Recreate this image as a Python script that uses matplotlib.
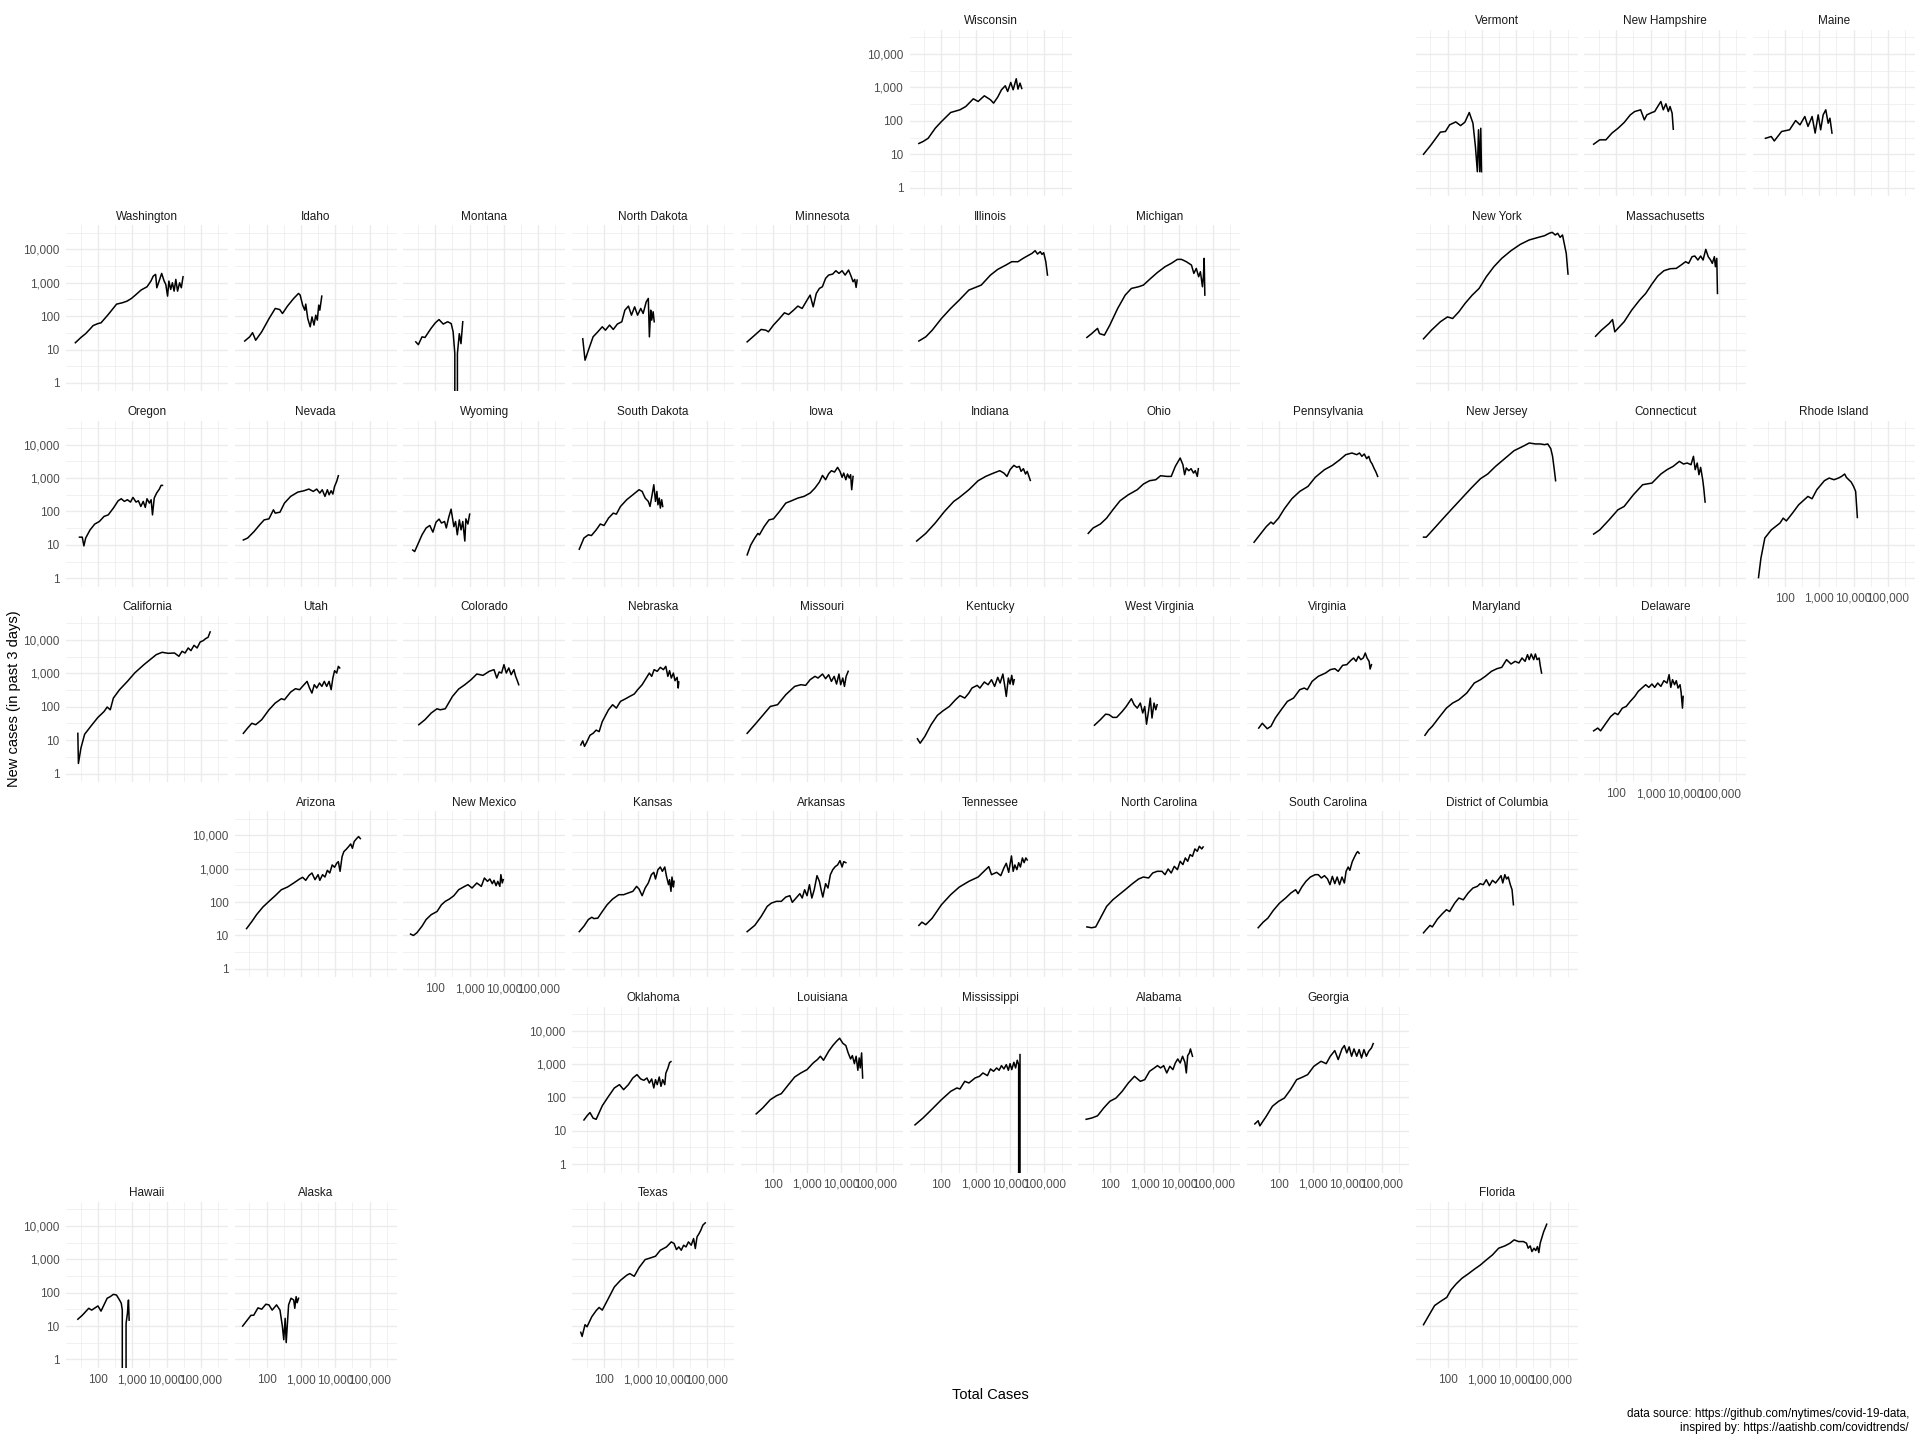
import matplotlib.pyplot as plt
from matplotlib.ticker import FixedLocator, FuncFormatter, NullFormatter

plt.rcParams['font.family'] = ['Liberation Sans', 'DejaVu Sans']

# geofacet-style grid: state name, grid row, grid column
states = ['Wisconsin', 'Vermont', 'New Hampshire', 'Maine',
          'Washington', 'Idaho', 'Montana', 'North Dakota', 'Minnesota', 'Illinois', 'Michigan',
          'New York', 'Massachusetts',
          'Oregon', 'Nevada', 'Wyoming', 'South Dakota', 'Iowa', 'Indiana', 'Ohio', 'Pennsylvania',
          'New Jersey', 'Connecticut', 'Rhode Island',
          'California', 'Utah', 'Colorado', 'Nebraska', 'Missouri', 'Kentucky', 'West Virginia',
          'Virginia', 'Maryland', 'Delaware',
          'Arizona', 'New Mexico', 'Kansas', 'Arkansas', 'Tennessee', 'North Carolina',
          'South Carolina', 'District of Columbia',
          'Oklahoma', 'Louisiana', 'Mississippi', 'Alabama', 'Georgia',
          'Hawaii', 'Alaska', 'Texas', 'Florida']
grid_rows = [0, 0, 0, 0,
             1, 1, 1, 1, 1, 1, 1, 1, 1,
             2, 2, 2, 2, 2, 2, 2, 2, 2, 2, 2,
             3, 3, 3, 3, 3, 3, 3, 3, 3, 3,
             4, 4, 4, 4, 4, 4, 4, 4,
             5, 5, 5, 5, 5,
             6, 6, 6, 6]
grid_cols = [5, 8, 9, 10,
             0, 1, 2, 3, 4, 5, 6, 8, 9,
             0, 1, 2, 3, 4, 5, 6, 7, 8, 9, 10,
             0, 1, 2, 3, 4, 5, 6, 7, 8, 9,
             1, 2, 3, 4, 5, 6, 7, 8,
             3, 4, 5, 6, 7,
             0, 1, 3, 8]

# total cases vs new cases in the past 3 days
wi_total = [22, 29, 41, 66, 100, 186, 347, 513, 851, 1175, 1778, 2690, 3311, 4365, 5623, 7244, 8511, 10470, 12300, 15140, 16980, 19500, 21880]
wi_new = [21, 24, 30, 60, 95, 178, 214, 269, 457, 380, 562, 427, 339, 513, 851, 1122, 759, 1413, 851, 1820, 891, 1349, 933]
vt_total = [20, 33, 62, 87, 115, 174, 240, 320, 430, 550, 650, 740, 800, 870, 930, 980]
vt_new = [10, 19, 46, 48, 76, 93, 72, 91, 178, 85, 17, 3, 54, 3, 60, 3]
nh_total = [22, 33, 50, 75, 113, 170, 257, 345, 515, 660, 780, 1100, 1320, 1620, 2000, 2350, 2800, 3300, 3700, 4250, 4600]
nh_new = [20, 27, 27, 43, 60, 89, 151, 190, 214, 107, 151, 178, 190, 269, 380, 214, 324, 190, 269, 170, 56]
me_total = [27, 40, 49, 80, 137, 205, 275, 380, 470, 620, 760, 930, 1100, 1300, 1550, 1820, 2050, 2350]
me_new = [30, 34, 25, 48, 54, 102, 76, 135, 68, 135, 43, 151, 54, 151, 214, 85, 120, 43]
wa_total = [22, 32, 44, 60, 72, 100, 123, 200, 350, 510, 710, 950, 1300, 1800, 2700, 3500, 4100, 4800, 5200, 6300, 7200, 8500, 9500, 10700, 11700, 13200, 14800, 16600, 18600, 20900, 24000, 26900, 30200]
wa_new = [16, 23, 30, 42, 52, 60, 63, 112, 229, 251, 282, 339, 447, 603, 759, 1122, 1585, 1778, 708, 1259, 1905, 1122, 891, 398, 1122, 631, 1000, 562, 1259, 562, 1000, 708, 1514]
id_total = [23, 32, 39, 48, 72, 118, 178, 240, 290, 405, 615, 850, 950, 1120, 1290, 1380, 1580, 1860, 2100, 2400, 2700, 3000, 3300, 3550, 4050]
id_new = [18, 24, 32, 19, 34, 85, 170, 158, 120, 200, 339, 479, 427, 214, 151, 229, 85, 48, 95, 54, 107, 76, 214, 151, 398]
mt_total = [27, 32, 41, 50, 75, 100, 128, 170, 229, 290, 330, 370, 405, 440, 500, 560, 630]
mt_new = [17, 14, 24, 23, 43, 63, 79, 58, 68, 60, 34, 7.6, 0, 7.6, 30, 15, 68]
nd_total = [24, 28, 35, 48, 66, 89, 110, 145, 186, 245, 330, 405, 515, 630, 780, 950, 1175, 1380, 1700, 1950, 2100, 2290, 2450, 2700, 2900]
nd_new = [21, 4.8, 9.5, 24, 34, 48, 38, 54, 40, 58, 68, 151, 200, 107, 190, 107, 170, 120, 269, 339, 24, 151, 76, 135, 68]
mn_total = [18, 30, 46, 63, 75, 105, 158, 219, 290, 405, 540, 720, 1000, 1230, 1510, 1860, 2290, 2800, 3470, 4260, 5600, 6900, 8500, 10500, 12900, 16200, 19500, 21900, 24500, 26900, 28800]
mn_new = [17, 27, 40, 38, 34, 54, 85, 126, 112, 151, 200, 170, 302, 427, 190, 479, 676, 759, 1349, 1698, 1820, 2290, 1905, 2290, 1698, 2400, 1514, 1072, 1259, 724, 1202]
il_total = [22, 35, 54, 100, 186, 330, 630, 1445, 2690, 4370, 7590, 11200, 17000, 24000, 31600, 43700, 53700, 63100, 75900, 85100, 95500, 110000, 123000]
il_new = [18, 24, 38, 85, 170, 302, 603, 851, 1698, 2512, 3390, 4266, 4266, 5370, 6310, 7590, 9120, 7240, 8510, 7080, 7940, 4266, 1698]
mi_total = [21, 29, 43, 49, 68, 98, 166, 275, 417, 676, 933, 1410, 2340, 3980, 6030, 9120, 12000, 16600, 23400, 27500, 32400, 38000, 42700, 49000, 52500, 55000, 57500]
mi_new = [23, 30, 43, 30, 27, 54, 170, 427, 676, 759, 851, 1259, 1995, 3020, 3800, 5010, 5010, 4270, 3390, 1905, 2690, 1514, 2140, 759, 1698, 5370, 427]
ny_total = [20, 34, 62, 100, 141, 214, 324, 525, 832, 1350, 2240, 3800, 7080, 13200, 24000, 44700, 67600, 91200, 112000, 138000, 162000, 191000, 224000, 251000, 288000, 324000]
ny_new = [21, 38, 68, 95, 85, 135, 240, 427, 676, 1514, 3020, 5370, 9120, 14100, 19100, 22900, 25700, 30200, 32400, 26900, 30200, 22900, 26900, 15100, 7590, 1820]
ma_total = [25, 37, 62, 78, 91, 112, 170, 282, 479, 724, 1096, 1620, 2450, 3720, 5620, 7760, 10500, 12900, 16200, 19500, 24000, 28800, 33900, 40700, 47900, 56200, 63100, 72400, 77600, 85100, 89100]
ma_new = [25, 38, 60, 79, 34, 43, 68, 151, 302, 479, 912, 1585, 2290, 2630, 2690, 3390, 4270, 3800, 6030, 6310, 4790, 6310, 4790, 10000, 6030, 4790, 3800, 6030, 3020, 5370, 479]
or_total = [29, 35, 39, 44, 59, 81, 110, 151, 200, 282, 389, 479, 589, 724, 891, 1050, 1290, 1510, 1780, 2090, 2400, 2690, 3160, 3550, 3890, 4370, 5130, 6170, 6920, 7590]
or_new = [17, 17, 9.3, 16, 28, 42, 50, 71, 79, 126, 209, 240, 200, 224, 191, 263, 191, 209, 141, 200, 132, 240, 178, 224, 79, 251, 355, 468, 603, 603]
nv_total = [21, 28, 43, 63, 85, 117, 158, 178, 245, 331, 501, 813, 1230, 1700, 2290, 2880, 3550, 4170, 5010, 5890, 6610, 7590, 8510, 9550, 11000, 12300]
nv_new = [14, 16, 25, 40, 56, 60, 112, 89, 95, 178, 282, 380, 417, 468, 398, 468, 355, 447, 282, 447, 316, 417, 331, 562, 794, 1175]
wy_total = [22, 25, 29, 41, 54, 69, 85, 105, 129, 151, 186, 209, 245, 288, 347, 389, 437, 501, 562, 631, 724, 776, 891, 1000]
wy_new = [7, 6.3, 8.9, 20, 32, 38, 24, 48, 59, 45, 50, 32, 66, 117, 35, 50, 20, 56, 28, 50, 13, 60, 42, 83]
sd_total = [19, 26, 35, 43, 59, 78, 100, 135, 186, 229, 302, 457, 692, 1050, 1290, 1580, 1950, 2190, 2570, 2820, 3160, 3470, 3720, 4070, 4370, 4790, 5130]
sd_new = [7.4, 16, 20, 19, 28, 42, 38, 63, 89, 83, 141, 224, 316, 447, 398, 251, 200, 141, 355, 631, 200, 398, 158, 251, 126, 224, 141]
ia_total = [18, 23, 30, 37, 41, 56, 78, 105, 158, 240, 355, 537, 813, 1230, 1700, 2290, 2820, 3470, 4270, 5130, 6310, 7760, 9120, 10500, 11700, 13500, 15100, 17000, 18600, 20000, 21900]
ia_new = [5, 10, 16, 22, 20, 35, 56, 60, 100, 178, 209, 251, 282, 355, 501, 759, 1200, 891, 1350, 1660, 1510, 2090, 1585, 1050, 1410, 891, 1320, 1000, 1260, 447, 1120]
in_total = [19, 35, 66, 123, 229, 330, 631, 1175, 1950, 3310, 5010, 6610, 8130, 10000, 12900, 15800, 18600, 20900, 24500, 28200, 31600, 35500, 38900]
in_new = [13, 22, 45, 100, 200, 260, 447, 832, 1120, 1410, 1660, 1410, 1120, 1780, 2400, 2090, 2240, 1585, 1905, 1320, 1585, 1120, 851]
oh_total = [23, 32, 52, 79, 120, 195, 339, 617, 933, 1410, 2140, 2950, 4470, 6030, 7940, 11000, 13200, 14800, 16600, 19500, 22900, 26900, 30200, 34700, 37200]
oh_new = [22, 32, 42, 63, 112, 209, 316, 447, 661, 832, 891, 1175, 1120, 1120, 2240, 3980, 2510, 1260, 2000, 1660, 1905, 1410, 1660, 1120, 1905]
pa_total = [19, 28, 43, 59, 69, 98, 145, 240, 407, 708, 1150, 2140, 3630, 6030, 8910, 13500, 18600, 22400, 26300, 30900, 36300, 41700, 46800, 52500, 58900, 67600, 75900]
pa_new = [12, 20, 35, 48, 42, 63, 120, 240, 398, 562, 1050, 1780, 2400, 3550, 5010, 5620, 5010, 5620, 4470, 5250, 3800, 4470, 3160, 2630, 2000, 1510, 1120]
nj_total = [20, 24, 42, 76, 141, 263, 490, 912, 1480, 2510, 4270, 8710, 15800, 24000, 36300, 50100, 67600, 83200, 102000, 115000, 129000, 141000]
nj_new = [17, 17, 32, 63, 126, 251, 501, 955, 1320, 2240, 3550, 6610, 8910, 11200, 10500, 10500, 10000, 10500, 7590, 4470, 1780, 832]
ct_total = [22, 33, 62, 112, 170, 316, 589, 1100, 2000, 3020, 4570, 6920, 9120, 11700, 15100, 17800, 20000, 22900, 25700, 28800, 33100, 35500, 38900]
ct_new = [21, 28, 56, 112, 141, 316, 631, 708, 1320, 1780, 2240, 3160, 2630, 2820, 2510, 4470, 1780, 2820, 1260, 2090, 891, 501, 191]
ri_total = [17, 20, 26, 40, 72, 89, 110, 166, 251, 468, 617, 851, 1410, 1950, 2690, 3630, 4470, 5500, 6170, 7240, 8510, 10000, 11500, 12900]
ri_new = [1.05, 4, 16, 28, 45, 63, 52, 89, 158, 282, 240, 447, 832, 1000, 891, 1000, 1120, 1320, 1050, 891, 759, 562, 398, 66]
ca_total = [26, 27, 32, 41, 62, 100, 151, 186, 229, 282, 427, 724, 1175, 2190, 3310, 5010, 7410, 11200, 17000, 22900, 28200, 34700, 42700, 51300, 63100, 77600, 95500, 117000, 138000, 162000, 186000]
ca_new = [16, 2, 5.8, 15, 26, 48, 72, 98, 81, 182, 324, 575, 1023, 1820, 2570, 3630, 4270, 3980, 4070, 3240, 4570, 4070, 5750, 4790, 6920, 5750, 8710, 9550, 11000, 12000, 17400]
ut_total = [21, 28, 37, 48, 72, 117, 178, 269, 331, 501, 692, 912, 1230, 1510, 1780, 2090, 2450, 2880, 3470, 4070, 4790, 5620, 6610, 7590, 8510, 9550, 11000, 12300, 13500]
ut_new = [16, 23, 32, 29, 41, 81, 129, 174, 162, 275, 347, 324, 457, 575, 363, 257, 457, 363, 513, 407, 575, 407, 575, 324, 724, 1200, 1020, 1620, 1450]
co_total = [33, 50, 76, 112, 138, 195, 316, 479, 724, 1100, 1620, 2450, 3720, 5130, 6170, 7240, 8510, 10000, 11700, 13800, 16200, 19500, 21900, 24500, 26900]
co_new = [29, 41, 65, 87, 81, 87, 204, 339, 457, 646, 955, 871, 1150, 1290, 724, 1100, 1020, 1820, 1020, 1450, 912, 1290, 813, 603, 457]
ne_total = [21, 24, 27, 32, 39, 48, 59, 72, 89, 135, 178, 229, 302, 427, 562, 759, 955, 1290, 1700, 2090, 2450, 2880, 3550, 4370, 5370, 6310, 7240, 8130, 9120, 10500, 11700, 13500, 14500, 15100]
ne_new = [7.2, 9.5, 6.5, 9.1, 14, 16, 20, 18, 36, 81, 115, 91, 145, 174, 204, 240, 324, 457, 724, 1020, 813, 1290, 1150, 1510, 1290, 1620, 813, 1200, 724, 1020, 603, 759, 363, 550]
mo_total = [18, 30, 51, 85, 138, 240, 437, 661, 912, 1230, 1700, 2090, 2820, 3470, 4270, 5130, 6170, 7240, 8510, 9550, 11000, 12300, 13800, 15800]
mo_new = [16, 29, 55, 102, 115, 229, 407, 457, 437, 646, 813, 724, 955, 692, 912, 575, 813, 479, 955, 457, 724, 407, 813, 1150]
ky_total = [20, 24, 33, 50, 76, 112, 170, 257, 347, 479, 631, 776, 1100, 1320, 1780, 2290, 2880, 3550, 4370, 5130, 6170, 6920, 7760, 8910, 10000, 11200, 12300, 13200]
ky_new = [11, 8.1, 13, 29, 55, 76, 102, 162, 215, 182, 257, 363, 437, 363, 550, 457, 646, 407, 759, 513, 955, 457, 204, 724, 479, 871, 457, 646]
wv_total = [35, 52, 74, 93, 120, 155, 224, 295, 417, 501, 617, 759, 891, 1020, 1150, 1320, 1480, 1660, 1905, 2140, 2340]
wv_new = [28, 41, 60, 58, 48, 48, 72, 102, 174, 115, 91, 129, 65, 102, 30, 76, 182, 46, 129, 81, 115]
va_total = [26, 33, 46, 59, 79, 117, 178, 269, 407, 550, 676, 933, 1410, 2290, 3160, 4270, 5370, 7240, 9550, 12300, 15100, 17800, 20900, 24500, 28800, 33100, 37200, 42700, 45700, 50100]
va_new = [23, 32, 22, 26, 46, 81, 145, 182, 324, 363, 324, 575, 813, 1020, 1290, 1380, 1150, 1740, 1820, 2400, 2880, 2290, 3240, 2570, 2880, 4070, 2880, 2290, 1350, 1820]
md_total = [22, 28, 36, 55, 93, 141, 214, 363, 603, 912, 1260, 1905, 2750, 3800, 5250, 7080, 9330, 12000, 14800, 18200, 21400, 24000, 27500, 32400, 36300, 40700, 46800, 50100, 55000]
md_new = [14, 20, 26, 46, 91, 129, 162, 257, 513, 646, 813, 1150, 1380, 1510, 2570, 1905, 2290, 2040, 2880, 2290, 3630, 2570, 3800, 2570, 3800, 2570, 2880, 1740, 1020]
de_total = [22, 29, 35, 50, 69, 91, 112, 151, 195, 257, 347, 437, 589, 724, 891, 1100, 1320, 1620, 2000, 2450, 3020, 3470, 3890, 4370, 5010, 5620, 6310, 7240, 7760, 8510, 8910]
de_new = [19, 23, 19, 32, 51, 65, 58, 91, 102, 145, 204, 288, 380, 457, 380, 479, 380, 513, 407, 603, 513, 912, 380, 646, 457, 603, 363, 457, 275, 91, 204]
az_total = [26, 37, 51, 78, 117, 178, 269, 407, 617, 912, 1120, 1380, 1700, 2090, 2570, 3160, 3550, 4270, 5010, 5890, 6920, 8130, 9550, 11000, 12300, 13800, 15800, 17800, 20900, 24500, 28200, 31600, 35500, 42700, 47900, 53700]
az_new = [16, 26, 42, 71, 105, 155, 234, 282, 372, 490, 550, 447, 617, 741, 468, 661, 447, 661, 562, 891, 741, 1290, 1100, 1450, 1620, 832, 2290, 3240, 3800, 4570, 5500, 4070, 6460, 8130, 9120, 7940]
nm_total = [19, 23, 29, 41, 54, 76, 112, 151, 195, 257, 347, 479, 661, 891, 1175, 1620, 2190, 2690, 3310, 3890, 4570, 5130, 5890, 6610, 7590, 8130, 8910, 9550]
nm_new = [11, 10, 12, 19, 30, 42, 52, 83, 105, 123, 155, 234, 282, 331, 263, 372, 295, 525, 417, 490, 355, 447, 309, 417, 295, 661, 372, 468]
ks_total = [19, 26, 35, 44, 51, 66, 89, 123, 178, 269, 372, 501, 692, 891, 1050, 1290, 1580, 1950, 2400, 2820, 3160, 3720, 4370, 5010, 5890, 6610, 7590, 8130, 8910, 9550, 10500, 11000]
ks_new = [13, 19, 30, 35, 32, 33, 52, 83, 123, 166, 166, 186, 209, 295, 245, 155, 263, 372, 661, 776, 490, 933, 1120, 832, 1120, 589, 331, 468, 209, 562, 282, 417]
ar_total = [18, 23, 30, 46, 69, 91, 129, 178, 240, 316, 372, 479, 617, 724, 851, 1000, 1175, 1380, 1620, 1950, 2290, 2570, 2880, 3470, 4070, 4790, 5620, 6610, 7760, 9120, 10500, 11700, 13500]
ar_new = [13, 16, 20, 37, 74, 93, 105, 105, 141, 155, 98, 132, 178, 132, 234, 155, 331, 132, 234, 617, 417, 234, 141, 355, 263, 661, 933, 1150, 1290, 1740, 1120, 1620, 1510]
tn_total = [22, 27, 35, 54, 100, 186, 330, 631, 1175, 1950, 2400, 2880, 4070, 5370, 6610, 7760, 9120, 11000, 12300, 13800, 15800, 17800, 20000, 22900, 25700, 28800, 31600]
tn_new = [20, 25, 21, 33, 83, 166, 280, 417, 562, 933, 1150, 661, 776, 617, 1050, 1450, 776, 2400, 832, 1290, 933, 1510, 1120, 2090, 1510, 2090, 1820]
nc_total = [21, 29, 38, 52, 79, 120, 182, 275, 447, 676, 933, 1320, 1740, 2340, 3240, 3980, 4900, 6030, 7410, 9120, 11000, 13200, 15500, 18200, 21400, 25100, 29500, 34700, 39800, 46800, 51300]
nc_new = [18, 17, 18, 33, 74, 117, 166, 234, 355, 490, 562, 525, 741, 832, 832, 661, 977, 741, 1175, 933, 1660, 1320, 2090, 1660, 2630, 2340, 3890, 3310, 4680, 3890, 4470]
sc_total = [25, 35, 48, 69, 105, 158, 224, 309, 363, 468, 617, 832, 1150, 1410, 1740, 2140, 2630, 3090, 3630, 4270, 5010, 5890, 6920, 8130, 9120, 10500, 11700, 13800, 16200, 18600, 20000, 21900]
sc_new = [17, 25, 33, 56, 93, 132, 186, 234, 178, 282, 417, 562, 661, 661, 525, 617, 490, 331, 589, 355, 562, 331, 562, 372, 832, 1120, 891, 1620, 2290, 3020, 3240, 2880]
dc_total = [20, 24, 31, 36, 51, 71, 93, 115, 162, 214, 288, 398, 550, 741, 891, 1100, 1350, 1660, 2040, 2510, 3090, 3630, 4070, 4680, 5250, 5890, 6760, 7590, 8320]
dc_new = [12, 15, 20, 18, 31, 45, 59, 52, 93, 132, 117, 186, 263, 295, 355, 331, 468, 309, 447, 372, 490, 617, 372, 661, 490, 562, 331, 234, 83]
ok_total = [26, 32, 39, 48, 59, 89, 135, 200, 282, 372, 513, 692, 912, 1175, 1450, 1780, 2090, 2450, 2820, 3160, 3550, 4070, 4570, 5130, 5890, 6310, 7240, 8130, 8910]
ok_new = [21, 28, 35, 24, 22, 56, 107, 191, 240, 170, 240, 380, 479, 355, 324, 380, 269, 355, 191, 339, 240, 407, 214, 339, 240, 525, 741, 1100, 1175]
la_total = [33, 51, 85, 129, 178, 288, 437, 661, 1000, 1510, 2000, 2450, 3020, 4270, 5620, 7240, 8910, 11000, 13500, 15800, 18600, 20900, 24000, 26900, 30200, 33100, 35500, 38900, 41700]
la_new = [32, 48, 85, 112, 129, 240, 407, 537, 676, 1070, 1350, 1700, 1290, 2400, 3550, 4790, 5890, 4170, 3550, 2140, 1410, 1780, 1020, 1700, 646, 1510, 759, 2140, 380]
ms_total = [17, 29, 54, 100, 186, 282, 347, 479, 631, 955, 1290, 1620, 2190, 2690, 3310, 4070, 4790, 5620, 6610, 7760, 8910, 10000, 11200, 12900, 14500, 16200, 17800, 18600, 19500]
ms_new = [15, 24, 45, 85, 151, 191, 178, 302, 269, 380, 427, 537, 447, 708, 603, 759, 646, 891, 708, 955, 646, 1020, 676, 1120, 759, 1290, 955, 0, 1905]
al_total = [20, 29, 43, 65, 98, 148, 224, 339, 513, 759, 1020, 1410, 1950, 2400, 2950, 3630, 4470, 5500, 6760, 7940, 9330, 11000, 12900, 15100, 16600, 18200, 20400, 21900, 25100]
al_new = [22, 24, 28, 48, 76, 95, 151, 269, 427, 302, 339, 603, 759, 891, 759, 891, 537, 851, 676, 1070, 1410, 1070, 1700, 1120, 537, 1780, 2140, 2820, 1700]
ga_total = [20, 25, 28, 43, 65, 98, 145, 219, 331, 501, 692, 1050, 1700, 2400, 3160, 4270, 5370, 6920, 8130, 9550, 11200, 13200, 15500, 18600, 21900, 25700, 30200, 35500, 41700, 50100, 56200]
ga_new = [16, 20, 14, 27, 54, 76, 95, 170, 339, 407, 479, 851, 1200, 1020, 1700, 2510, 1350, 2820, 3550, 2140, 3240, 1700, 2820, 1700, 2690, 1510, 2690, 1700, 2400, 3020, 4070]
hi_total = [26, 35, 54, 66, 100, 123, 186, 229, 282, 347, 427, 479, 513, 589, 661, 724, 776, 813]
hi_new = [16, 21, 34, 30, 40, 28, 68, 76, 89, 85, 60, 48, 30, 0, 12, 24, 60, 15]
ak_total = [20, 23, 35, 42, 56, 72, 95, 117, 145, 195, 245, 288, 316, 347, 372, 437, 513, 617, 661, 724, 776, 851]
ak_new = [10, 12, 21, 21, 35, 32, 45, 43, 30, 43, 30, 9.8, 3.9, 17, 3.2, 43, 68, 60, 34, 76, 50, 68]
tx_total = [21, 23, 28, 32, 44, 59, 72, 89, 135, 200, 302, 457, 562, 759, 1050, 1580, 2400, 3160, 4370, 6610, 9120, 11000, 12900, 15100, 17800, 20900, 24500, 28800, 34700, 40700, 45700, 51300, 58900, 66100, 75900, 89100]
tx_new = [6.5, 4.9, 11, 9.5, 19, 29, 36, 30, 68, 148, 234, 331, 372, 309, 562, 977, 1120, 1230, 1860, 2340, 3310, 2950, 1950, 2340, 1860, 2630, 2340, 3310, 2630, 4170, 2090, 4680, 5890, 7410, 10500, 12300]
fl_total = [20, 28, 42, 63, 95, 126, 178, 263, 398, 603, 912, 1350, 2040, 3090, 4680, 6610, 8710, 11700, 16200, 20000, 22400, 25700, 28800, 33100, 37200, 41700, 45700, 50100, 56200, 63100, 72400, 77600]
fl_new = [11, 20, 41, 55, 72, 120, 182, 269, 363, 501, 676, 955, 1350, 2140, 2510, 3020, 3800, 3390, 3390, 3020, 2140, 2510, 1700, 2140, 1820, 2400, 1585, 3020, 4470, 6610, 9330, 11200]

series = {
    'Wisconsin': (wi_total, wi_new), 'Vermont': (vt_total, vt_new),
    'New Hampshire': (nh_total, nh_new), 'Maine': (me_total, me_new),
    'Washington': (wa_total, wa_new), 'Idaho': (id_total, id_new),
    'Montana': (mt_total, mt_new), 'North Dakota': (nd_total, nd_new),
    'Minnesota': (mn_total, mn_new), 'Illinois': (il_total, il_new),
    'Michigan': (mi_total, mi_new), 'New York': (ny_total, ny_new),
    'Massachusetts': (ma_total, ma_new), 'Oregon': (or_total, or_new),
    'Nevada': (nv_total, nv_new), 'Wyoming': (wy_total, wy_new),
    'South Dakota': (sd_total, sd_new), 'Iowa': (ia_total, ia_new),
    'Indiana': (in_total, in_new), 'Ohio': (oh_total, oh_new),
    'Pennsylvania': (pa_total, pa_new), 'New Jersey': (nj_total, nj_new),
    'Connecticut': (ct_total, ct_new), 'Rhode Island': (ri_total, ri_new),
    'California': (ca_total, ca_new), 'Utah': (ut_total, ut_new),
    'Colorado': (co_total, co_new), 'Nebraska': (ne_total, ne_new),
    'Missouri': (mo_total, mo_new), 'Kentucky': (ky_total, ky_new),
    'West Virginia': (wv_total, wv_new), 'Virginia': (va_total, va_new),
    'Maryland': (md_total, md_new), 'Delaware': (de_total, de_new),
    'Arizona': (az_total, az_new), 'New Mexico': (nm_total, nm_new),
    'Kansas': (ks_total, ks_new), 'Arkansas': (ar_total, ar_new),
    'Tennessee': (tn_total, tn_new), 'North Carolina': (nc_total, nc_new),
    'South Carolina': (sc_total, sc_new), 'District of Columbia': (dc_total, dc_new),
    'Oklahoma': (ok_total, ok_new), 'Louisiana': (la_total, la_new),
    'Mississippi': (ms_total, ms_new), 'Alabama': (al_total, al_new),
    'Georgia': (ga_total, ga_new), 'Hawaii': (hi_total, hi_new),
    'Alaska': (ak_total, ak_new), 'Texas': (tx_total, tx_new),
    'Florida': (fl_total, fl_new),
}

x_major = [1e2, 1e3, 1e4, 1e5]
x_minor = [10 ** 1.5, 10 ** 2.5, 10 ** 3.5, 10 ** 4.5, 10 ** 5.5]
y_major = [1, 10, 100, 1000, 10000]
y_minor = [10 ** 0.5, 10 ** 1.5, 10 ** 2.5, 10 ** 3.5, 10 ** 4.5]
comma = FuncFormatter(lambda v, pos: f'{v:,.0f}')

W, H = 1920, 1440
fig = plt.figure(figsize=(19.2, 14.4), dpi=100)

cells = set(zip(grid_rows, grid_cols))
for name, r, c in zip(states, grid_rows, grid_cols):
    left = 66 + 168.7 * c
    top = 30 + 195.3 * r
    ax = fig.add_axes([left / W, 1 - (top + 166) / H, 162 / W, 166 / H])
    ax.set_xscale('log')
    ax.set_yscale('log')
    total, new = series[name]
    ax.plot(total, new, color='black', lw=1.1)
    ax.set_xlim(10 ** 1.07, 10 ** 5.79)
    ax.set_ylim(10 ** -0.25, 10 ** 4.72)

    ax.xaxis.set_major_locator(FixedLocator(x_major))
    ax.xaxis.set_minor_locator(FixedLocator(x_minor))
    ax.yaxis.set_major_locator(FixedLocator(y_major))
    ax.yaxis.set_minor_locator(FixedLocator(y_minor))
    ax.xaxis.set_major_formatter(comma)
    ax.yaxis.set_major_formatter(comma)
    ax.xaxis.set_minor_formatter(NullFormatter())
    ax.yaxis.set_minor_formatter(NullFormatter())
    ax.grid(which='major', color='#EBEBEB', lw=1.0)
    ax.grid(which='minor', color='#EBEBEB', lw=0.5)
    ax.set_axisbelow(True)
    for s in ax.spines.values():
        s.set_visible(False)

    # labels only on the outer edges of the geo grid
    show_x = not any((rr, c) in cells for rr in range(r + 1, 7))
    show_y = not any((r, cc) in cells for cc in range(0, c))
    ax.tick_params(which='both', length=0, labelsize=8.5, labelcolor='#4D4D4D',
                   pad=4.5, labelbottom=show_x, labelleft=show_y)
    ax.set_title(name, fontsize=8.5, color='#1A1A1A', pad=4)

fig.text(990 / W, 1 - 1395 / H, 'Total Cases', ha='center', va='center', fontsize=10.5)
fig.text(14 / W, 1 - 699 / H, 'New cases (in past 3 days)', ha='center', va='center',
         rotation=90, fontsize=10.5)
fig.text(1909 / W, 1 - 1414 / H, 'data source: https://github.com/nytimes/covid-19-data,',
         ha='right', va='center', fontsize=8.5)
fig.text(1909 / W, 1 - 1428 / H, 'inspired by: https://aatishb.com/covidtrends/',
         ha='right', va='center', fontsize=8.5)

fig.savefig('out.png', dpi=100)
